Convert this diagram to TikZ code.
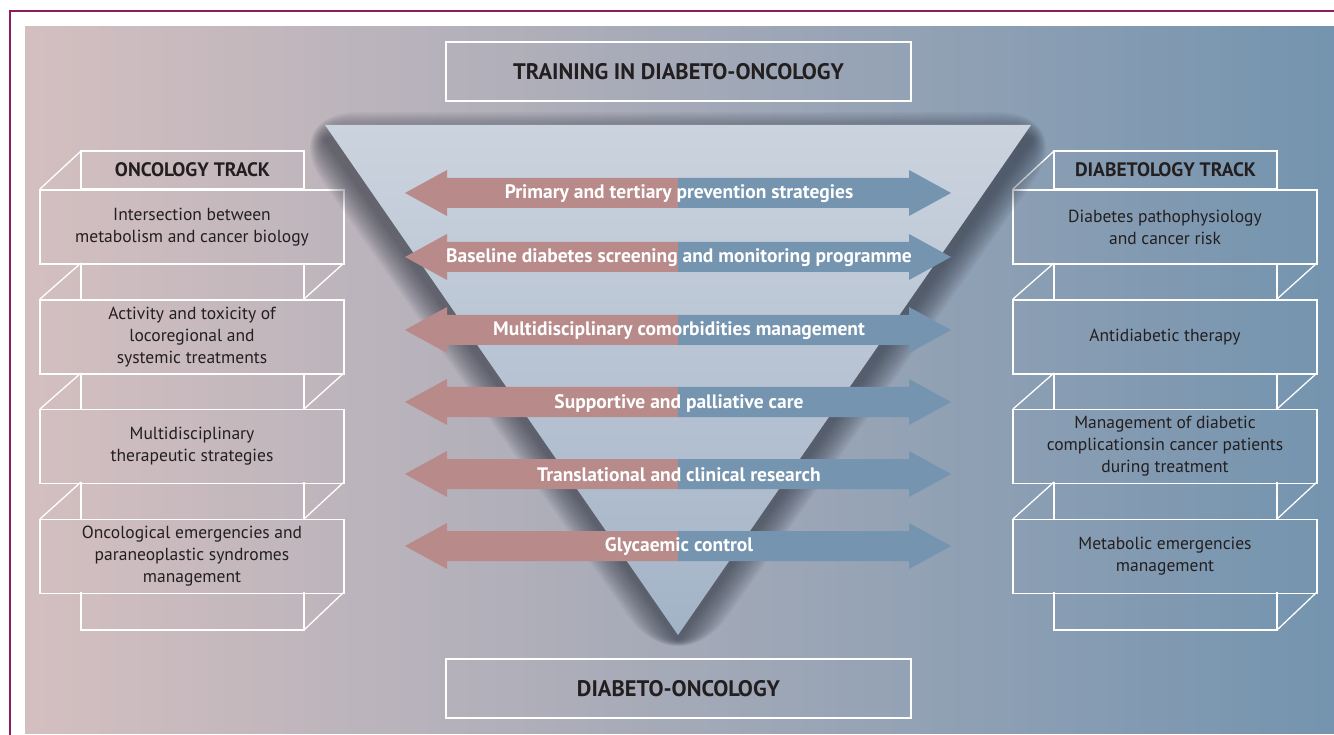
\documentclass[tikz,border=0pt]{standalone}
\usepackage{fontspec}
\setmainfont{PT Sans}
\definecolor{framec}{HTML}{8C1D5E}
\definecolor{bgL}{HTML}{D4BFC0}
\definecolor{bgM}{HTML}{ADA4B0}
\definecolor{bgR}{HTML}{7494AF}
\definecolor{triT}{HTML}{CBD3DE}
\definecolor{triB}{HTML}{A3B3C7}
\definecolor{arrP}{HTML}{B88A8A}
\definecolor{arrB}{HTML}{7594AF}
\definecolor{txt}{HTML}{231F20}
\definecolor{shadowc}{HTML}{2A303C}
\newcommand\ribbonlines{%
  \draw[ribbon] (40,189) -- (81,151);
  \foreach \a/\b in {263/299,373/409,482/519}{
    \draw[ribbon] (81,\a) -- (81,\b);
    \draw[ribbon] (304,\a) -- (304,\b);
    \draw[ribbon] (40,\b) -- (81,\a);
    \draw[ribbon] (344,\a) -- (304,\b);
  }
  \draw[ribbon] (81,592) -- (81,630) -- (304,630) -- (304,592);
  \draw[ribbon] (344,592) -- (304,630);
}
\begin{document}
\begin{tikzpicture}[x=1pt,y=-1pt,
  ribbon/.style={draw=white, line width=1.3pt},
  frontbox/.style={draw=white, line width=1.3pt, minimum width=304pt, minimum height=74pt, inner sep=0pt,
    text=txt, align=center, font=\fontsize{17.5}{22}\selectfont},
  headbox/.style={draw=white, line width=1.3pt, minimum width=223pt, minimum height=38pt, inner sep=0pt,
    text=txt, font=\bfseries\fontsize{19.5}{22}\selectfont},
  arrtext/.style={text=white, font=\bfseries\fontsize{19.5}{22}\selectfont},
  titlebox/.style={draw=white, line width=1.3pt, minimum width=465pt, minimum height=59pt, inner sep=0pt,
    text=txt, font=\bfseries\fontsize{22.5}{24}\selectfont},
  shadowlayer/.style={fill=shadowc, fill opacity=0.04}
]
\useasboundingbox (0,0) rectangle (1334,735);
% background
\shade[left color=bgL, middle color=bgM, right color=bgR] (25,27) rectangle (1334,733);
% frame
\draw[framec, line width=2pt] (10,735) -- (10,11) -- (1334,11);
% title boxes
\node[titlebox] (title) at (678.5,71.5) {TRAINING IN DIABETO-ONCOLOGY};
\node[titlebox] (bottom) at (678.5,688.5) {DIABETO-ONCOLOGY};
% left track
\ribbonlines
\node[headbox] (oh) at (192.5,170) {ONCOLOGY TRACK};
\node[frontbox] (o1) at (192,227) {Intersection between\\metabolism and cancer biology};
\node[frontbox] (o2) at (192,337) {Activity and toxicity of\\locoregional and\\systemic treatments};
\node[frontbox] (o3) at (192,446.5) {Multidisciplinary\\therapeutic strategies};
\node[frontbox] (o4) at (192,556.5) {Oncological emergencies and\\paraneoplastic syndromes\\management};
% right track
\begin{scope}[xshift=973pt]
\ribbonlines
\end{scope}
\node[headbox] (dh) at (1165.5,170) {DIABETOLOGY TRACK};
\node[frontbox] (d1) at (1165,227) {Diabetes pathophysiology\\and cancer risk};
\node[frontbox] (d2) at (1165,337) {Antidiabetic therapy};
\node[frontbox] (d3) at (1165,446.5) {Management of diabetic\\complicationsin cancer patients\\during treatment};
\node[frontbox] (d4) at (1165,556.5) {Metabolic emergencies\\management};
% funnel shadow (stacked soft layers)
\foreach \k in {1,2,...,20}{
  \pgfmathsetmacro\d{1.35*\k}
  \fill[shadowlayer, rounded corners={3.2*\d pt}] ({325-1.908*\d},{139-\d}) -- ({1031+1.908*\d},{139-\d}) -- (678,{640+1.757*\d}) -- cycle;
}
% funnel
\shade[top color=triT, bottom color=triB] (325,125) -- (1031,125) -- (678,635) -- cycle;
% arrows
\foreach \c/\t [count=\i] in {193/{Primary and tertiary prevention strategies},
  257/{Baseline diabetes screening and monitoring programme},
  330/{Multidisciplinary comorbidities management},
  402/{Supportive and palliative care},
  474/{Translational and clinical research},
  546/{Glycaemic control}}{
  \fill[arrP] (405,\c) -- (447,\c-23) -- (447,\c-15) -- (678.5,\c-15) -- (678.5,\c+15) -- (447,\c+15) -- (447,\c+23) -- cycle;
  \fill[arrB] (951,\c) -- (909,\c-23) -- (909,\c-15) -- (678,\c-15) -- (678,\c+15) -- (909,\c+15) -- (909,\c+23) -- cycle;
  \node[arrtext] (a\i) at (679,\c+1) {\t};
}
\end{tikzpicture}
\end{document}
